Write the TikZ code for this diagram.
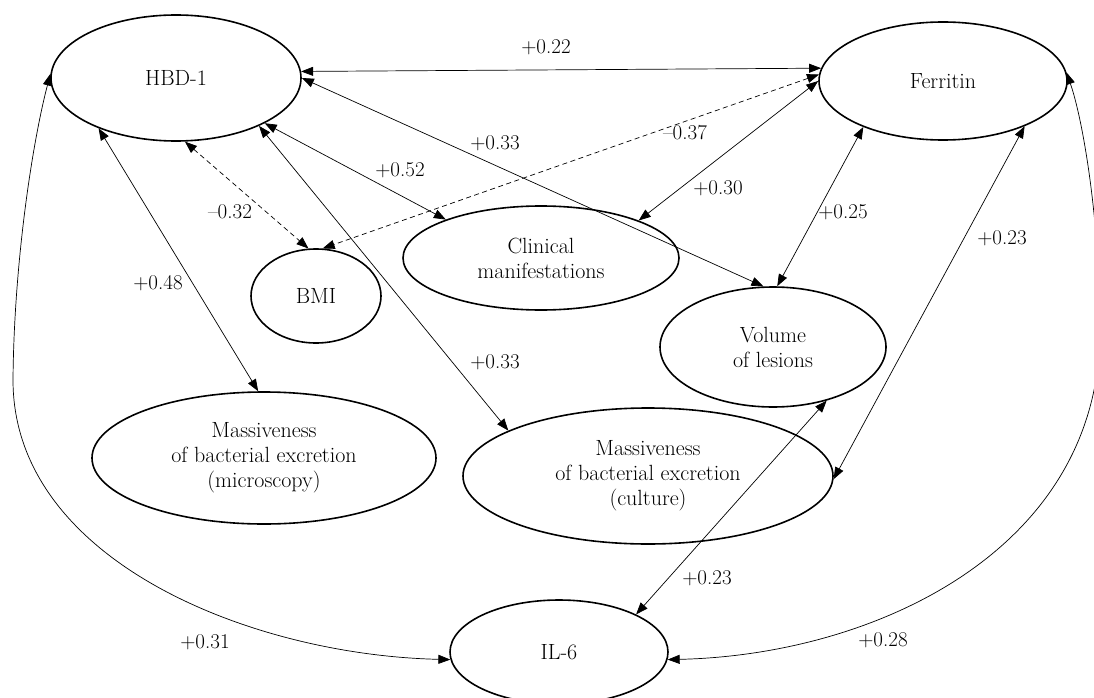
\documentclass[tikz,border=0pt]{standalone}
\usepackage{fontspec}
\usetikzlibrary{shapes.geometric,arrows.meta}
\tikzset{
  var/.style={ellipse, draw, line width=1.6pt, inner sep=0pt, align=center,
    font=\fontsize{22}{25}\selectfont},
  link/.style={line width=0.7pt, <->, >={Triangle[length=12pt,width=9pt]}},
  dlink/.style={link, dash pattern=on 5pt off 3.5pt},
  lbl/.style={font=\fontsize{21}{24}\selectfont, inner sep=0pt}
}
\begin{document}
\begin{tikzpicture}[x=1pt,y=-1pt]
\useasboundingbox (0,0) rectangle (1094,698);
% variables
\node[var, minimum width=250pt, minimum height=126pt] (hbd) at (176,78) {HBD-1};
\node[var, minimum width=248pt, minimum height=118pt] (fer) at (943,81) {Ferritin};
\node[var, minimum width=276pt, minimum height=104pt] (cli) at (541,258) {Clinical\\manifestations};
\node[var, minimum width=130pt, minimum height=94pt] (bmi) at (316,296) {BMI};
\node[var, minimum width=226pt, minimum height=120pt] (vol) at (773,347) {Volume\\of lesions};
\node[var, minimum width=344pt, minimum height=132pt] (mic) at (264,458) {Massiveness\\of bacterial excretion\\(microscopy)};
\node[var, minimum width=370pt, minimum height=136pt] (cul) at (648,476) {Massiveness\\of bacterial excretion\\(culture)};
\node[var, minimum width=218pt, minimum height=104pt] (il6) at (559,652) {IL-6};
% connectors
\draw[link] (hbd.3.7) -- (fer.174.5);
\draw[link] (hbd.0) -- (vol.99);
\draw[dlink] (fer.177.5) -- (bmi.82);
\draw[dlink] (hbd.-82) -- (bmi.99);
\draw[link] (hbd.-27) -- (cli.158);
\draw[link] (fer.180.5) -- (cli.21);
\draw[link] (fer.210) -- (vol.86);
\draw[link] (fer.-29) -- (cul.-1);
\draw[link] (hbd.213) -- (mic.95);
\draw[link] (hbd.-30) -- (cul.162);
\draw[link] (vol.-45) -- (il6.26);
\draw[link] (hbd.178) .. controls (33,140) and (14,260) .. (13,380)
  .. controls (13,560) and (250,655) .. (il6.184);
\draw[link] (fer.4) .. controls (1083,120) and (1100,220) .. (1100,330)
  .. controls (1100,550) and (875,655) .. (il6.-4);
% labels
\node[lbl] (l1) at (546,47) {+0.22};
\node[lbl] (l2) at (495,143) {+0.33};
\node[lbl] (l3) at (685,133) {--0.37};
\node[lbl] (l4) at (230,212) {--0.32};
\node[lbl] (l5) at (400,170) {+0.52};
\node[lbl] (l6) at (718,188) {+0.30};
\node[lbl] (l7) at (843,212) {+0.25};
\node[lbl] (l8) at (1002,238) {+0.23};
\node[lbl] (l9) at (158,283) {+0.48};
\node[lbl] (l10) at (495,362) {+0.33};
\node[lbl] (l11) at (707,578) {+0.23};
\node[lbl] (l12) at (205,642) {+0.31};
\node[lbl] (l13) at (883,640) {+0.28};
\end{tikzpicture}
\end{document}
